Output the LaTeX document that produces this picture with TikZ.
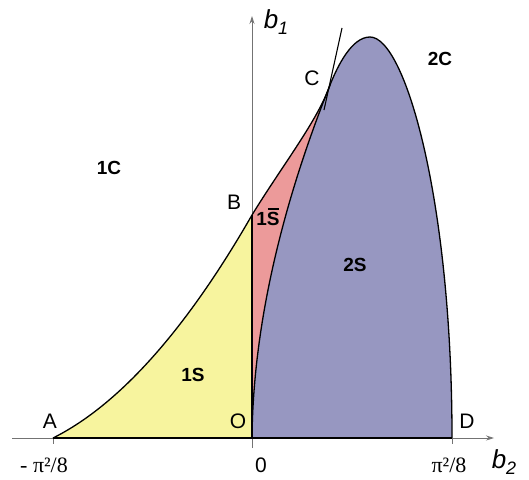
\documentclass[tikz,border=0pt]{standalone}
\usepackage{fontspec}
\setmainfont{Liberation Sans}
\newfontfamily\pifont{Liberation Serif}
\usetikzlibrary{arrows.meta}

\definecolor{sYellow}{RGB}{247,244,158}
\definecolor{sRed}{RGB}{236,154,154}
\definecolor{sBlue}{RGB}{151,151,193}

\newcommand{\axlabel}[2]{{\fontsize{26}{26}\selectfont\itshape #1}\raisebox{-6pt}{\fontsize{18}{18}\selectfont\itshape #2}}
\newcommand{\barS}{\makebox[0pt][l]{\hspace{1pt}\raisebox{16pt}{\rule{11pt}{1.2pt}}}S}

\begin{document}
\begin{tikzpicture}[
  x=1pt, y=-1pt,
  axis/.style={draw=black!55, line width=0.8pt, -{Stealth[length=8pt,width=5pt]}},
  tick/.style={draw=black!55, line width=0.8pt},
  edge/.style={draw=black, line width=1.3pt},
  lbl/.style={font=\fontsize{21}{21}\selectfont, inner sep=0pt},
  reg/.style={font=\fontsize{19}{19}\selectfont\bfseries, inner sep=0pt},
  num/.style={font=\pifont\fontsize{22}{22}\selectfont, inner sep=0pt}
]
\useasboundingbox (0,0) rectangle (529,479);

% key points
\coordinate (A) at (53,438);
\coordinate (O) at (252,438);
\coordinate (D) at (452,438);
\coordinate (B) at (252,215);
\coordinate (C) at (330,85);
\coordinate (P) at (370,37);
\coordinate (T) at (342,28);
\coordinate (Tb) at (324,110);
\coordinate (xs) at (12,438);
\coordinate (xe) at (494,438);
\coordinate (ys) at (252,448);
\coordinate (ye) at (252,16);

% axes
\draw[axis] (xs) -- (xe);
\draw[axis] (ys) -- (ye);
\draw[tick] (A) -- ++(0,6);
\draw[tick] (D) -- ++(0,6);

% regions
\fill[sYellow] (A) .. controls (119,405) and (186,330) .. (B) -- (O) -- cycle;
\fill[sRed] (O) -- (B) .. controls (282,166) and (318,120) .. (C) -- (380,438) -- cycle;
\fill[sBlue] (O) .. controls (253,330) and (280,210) .. (C)
  .. controls (338,65) and (352,37) .. (P)
  .. controls (405,37) and (452,200) .. (D) -- cycle;

% boundaries
\draw[edge] (A) -- (D);
\draw[edge] (O) -- (B);
\draw[edge] (A) .. controls (119,405) and (186,330) .. (B)
  .. controls (282,166) and (318,120) .. (C);
\draw[edge, line width=1.1pt] (Tb) -- (T);
\draw[edge] (O) .. controls (253,330) and (280,210) .. (C)
  .. controls (338,65) and (352,37) .. (P)
  .. controls (405,37) and (452,200) .. (D);

% point labels
\node[lbl] (lA) at (50,421) {A};
\node[lbl] (lO) at (238,421) {O};
\node[lbl] (lD) at (467,421) {D};
\node[lbl] (lB) at (234,202) {B};
\node[lbl] (lC) at (312,78) {C};

% region labels
\node[reg] (r1C) at (109,168) {1C};
\node[reg] (r1S) at (193,375) {1S};
\node[reg] (r2S) at (355,265) {2S};
\node[reg] (r2C) at (440,59) {2C};
\node[reg] (r1Sb) at (268,217) {1\barS};

% axis labels
\node[num] (xmin) at (44,465) {- π²/8};
\node[lbl] (xzero) at (261,465) {0};
\node[num] (xmax) at (449,465) {π²/8};
\node[inner sep=0pt] (b1) at (276,22) {\axlabel{b}{1}};
\node[inner sep=0pt] (b2) at (504,462) {\axlabel{b}{2}};
\end{tikzpicture}
\end{document}
